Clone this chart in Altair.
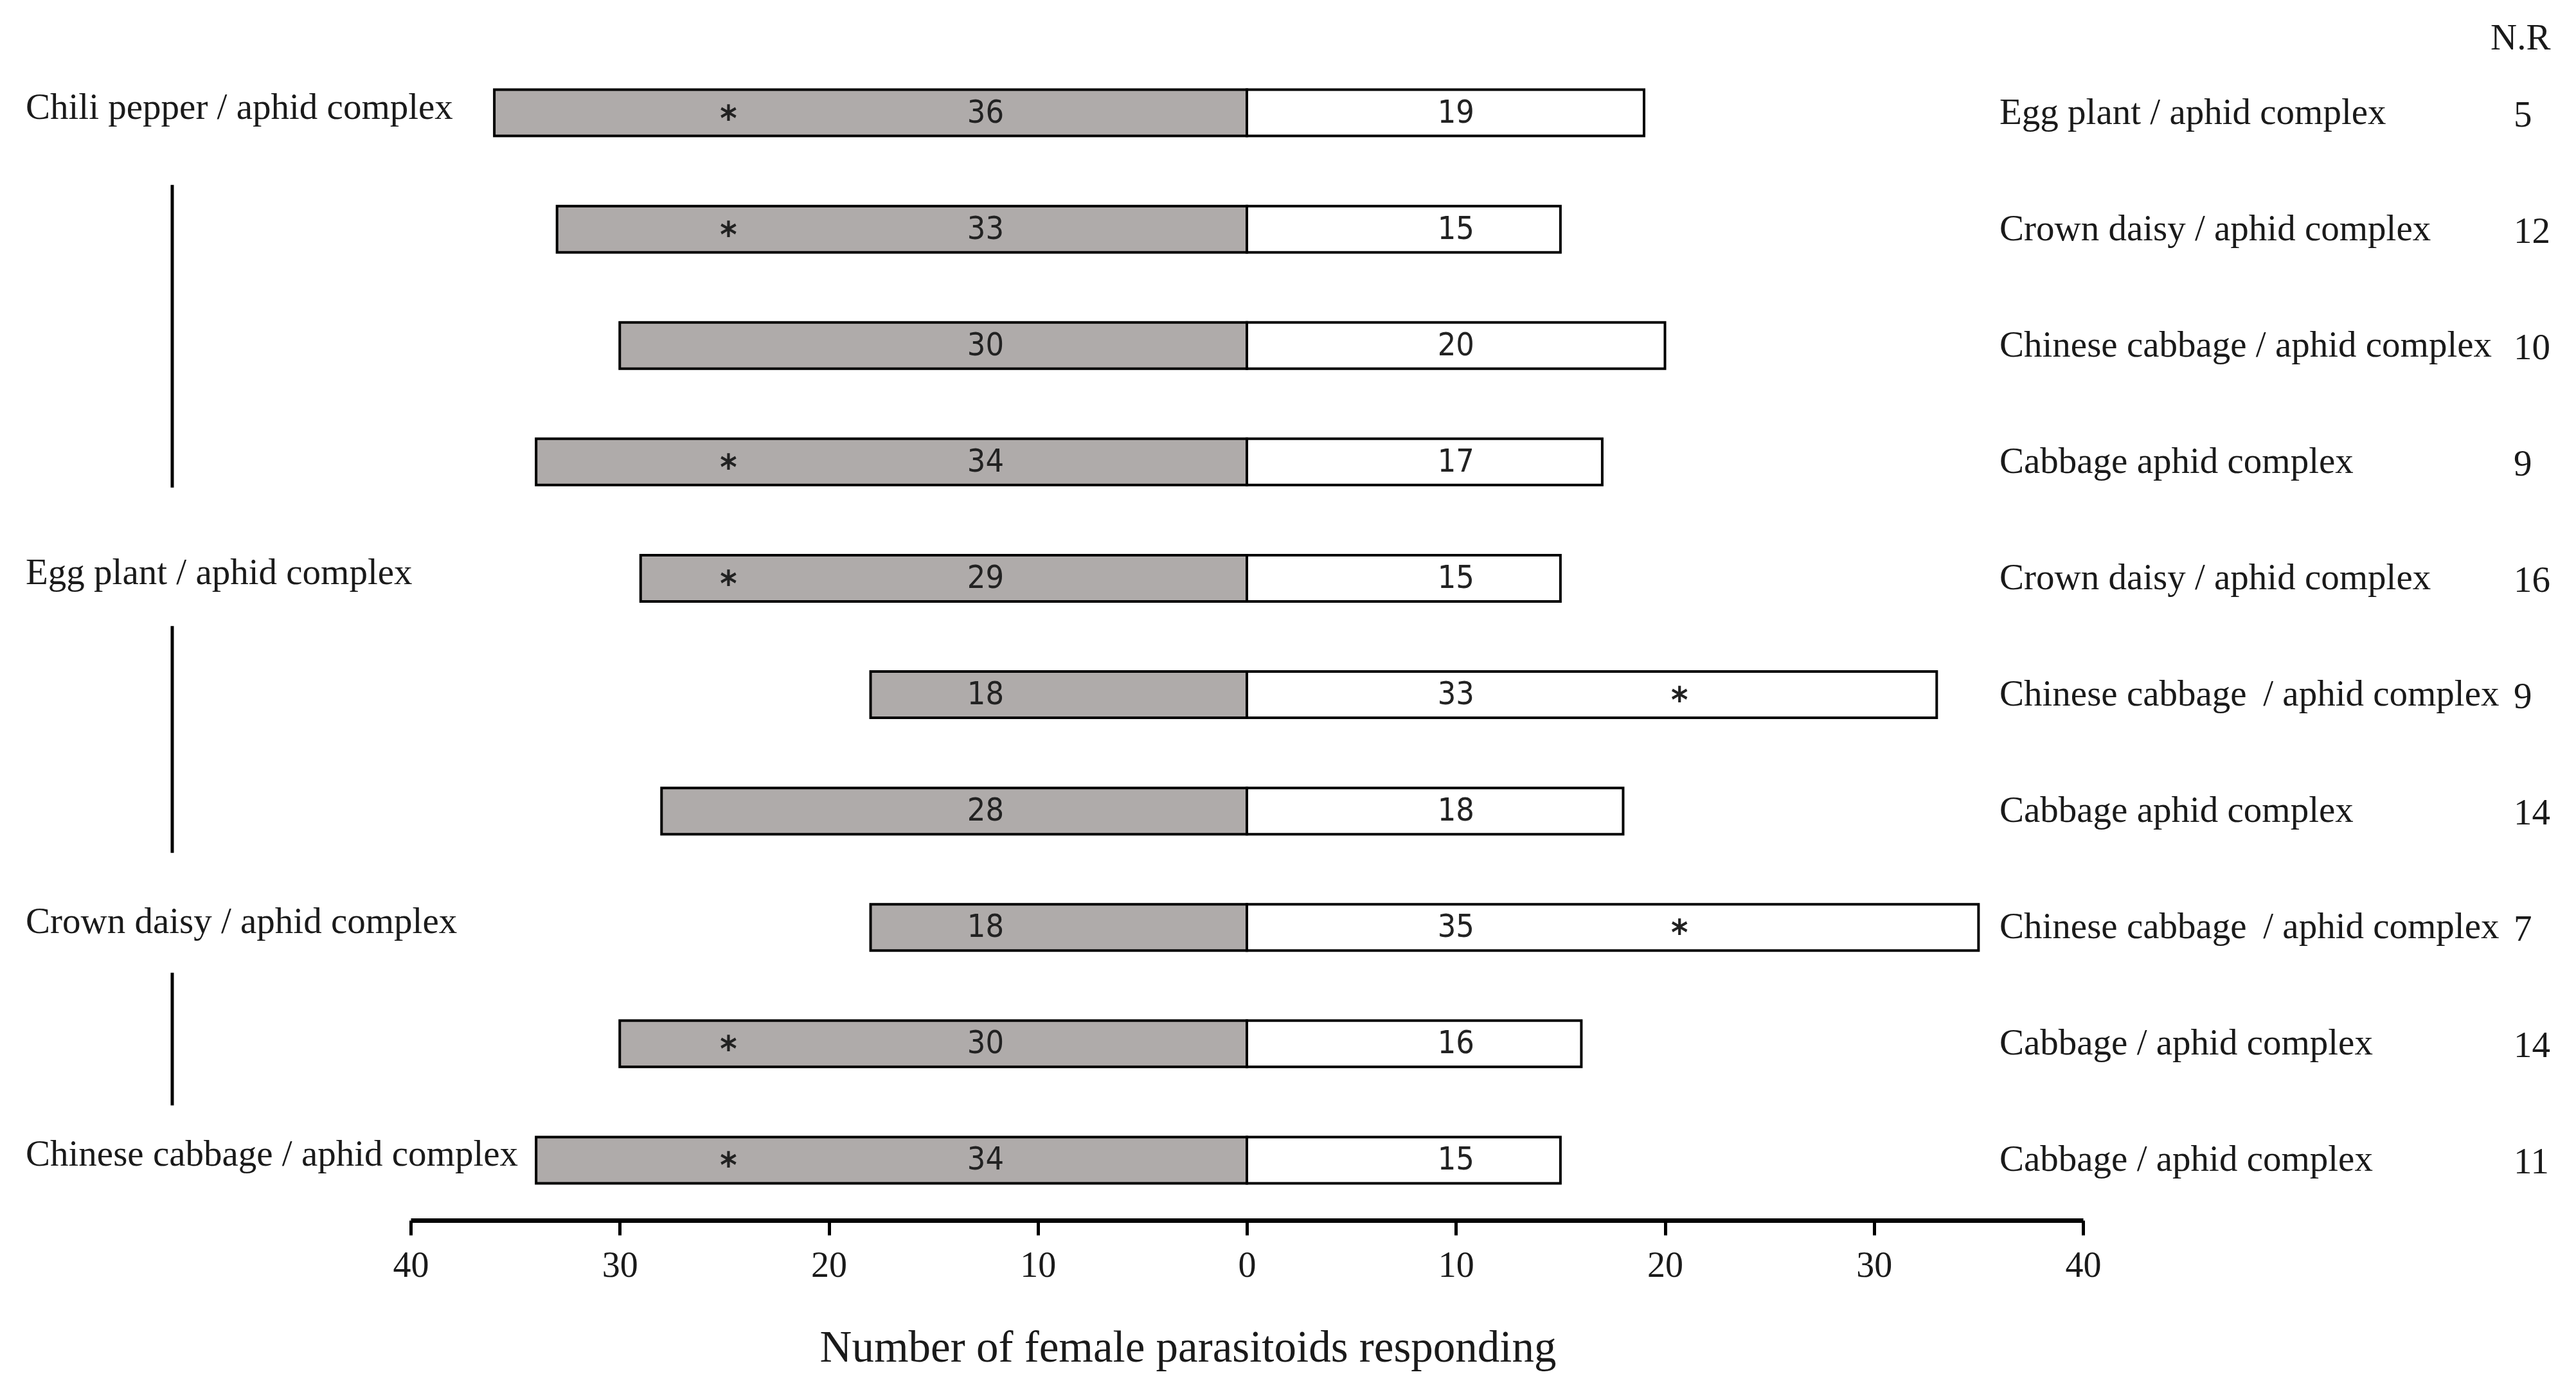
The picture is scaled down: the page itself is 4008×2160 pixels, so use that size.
import altair as alt
import pandas as pd

# ---- data ----
rows = [1, 2, 3, 4, 5, 6, 7, 8, 9, 10]
left_values = [36, 33, 30, 34, 29, 18, 28, 18, 30, 34]
right_values = [19, 15, 20, 17, 15, 33, 18, 35, 16, 15]
left_significant = [True, True, False, True, True, False, False, False, True, True]
right_significant = [False, False, False, False, False, True, False, True, False, False]
right_labels = [
    "Egg plant / aphid complex",
    "Crown daisy / aphid complex",
    "Chinese cabbage  / aphid complex",
    "Cabbage aphid complex",
    "Crown daisy / aphid complex",
    "Chinese cabbage\u2009 / aphid complex",
    "Cabbage aphid complex",
    "Chinese cabbage\u2009 / aphid complex",
    "Cabbage / aphid complex",
    "Cabbage / aphid complex",
]
nr_values = [5, 12, 10, 9, 16, 9, 14, 7, 14, 11]
left_label_rows = [1, 5, 8, 10]
left_labels = [
    "Chili pepper / aphid complex",
    "Egg plant / aphid complex",
    "Crown daisy / aphid complex",
    "Chinese cabbage  / aphid complex",
]
bracket_start = [1.62, 5.41, 8.39]
bracket_end = [4.22, 7.36, 9.53]
x_ticks = [-40, -30, -20, -10, 0, 10, 20, 30, 40]

# ---- tables ----
bars_left = pd.DataFrame({"row": rows, "x0": [-v for v in left_values],
                          "x1": [0] * len(rows), "val": left_values})
bars_right = pd.DataFrame({"row": rows, "x0": [0] * len(rows),
                           "x1": right_values, "val": right_values})
stars_left = pd.DataFrame({"row": [r for r, s in zip(rows, left_significant) if s]})
stars_right = pd.DataFrame({"row": [r for r, s in zip(rows, right_significant) if s]})
right_df = pd.DataFrame({"row": rows, "label": right_labels, "nr": [str(v) for v in nr_values]})
left_df = pd.DataFrame({"row": left_label_rows, "label": left_labels})
brackets = pd.DataFrame({"y0": bracket_start, "y1": bracket_end})
header = pd.DataFrame({"t": ["N.R"]})

SERIF = "Liberation Serif"
NARROW = "Liberation Sans Narrow, DejaVu Sans Condensed, sans-serif"
TXT = "#1a1a1a"

yscale = alt.Scale(domain=[0.511, 10.489], reverse=True, nice=False, zero=False)
xscale = alt.Scale(domain=[-40, 40], nice=False, zero=False)

x_axis = alt.Axis(
    values=x_ticks, labelExpr="'' + abs(datum.value)", grid=False, labelFlush=False,
    domainColor="black", domainWidth=7, tickColor="black", tickWidth=5, tickSize=23,
    labelFont=SERIF, labelFontSize=56, labelColor=TXT, labelPadding=20,
    title="Number of female parasitoids responding", titleFont=SERIF,
    titleFontSize=69, titleFontWeight="normal", titleColor=TXT, titlePadding=66,
    titleX=1209, titleAlign="center", titleAnchor="start",
)

base_y = alt.Y("row:Q", scale=yscale, axis=None)

left_bars = alt.Chart(bars_left).mark_bar(
    size=72, fill="#AFABAA", stroke="black", strokeWidth=4
).encode(
    x=alt.X("x0:Q", scale=xscale, axis=x_axis), x2="x1:Q", y=base_y
)
right_bars = alt.Chart(bars_right).mark_bar(
    size=72, fill="white", stroke="black", strokeWidth=4
).encode(
    x=alt.X("x0:Q", scale=xscale), x2="x1:Q", y=base_y
)

left_nums = alt.Chart(bars_left).mark_text(
    font=NARROW, fontSize=50, color="#222", baseline="middle", align="center"
).encode(x=alt.datum(-12.5), y=base_y, text="val:Q")
right_nums = alt.Chart(bars_right).mark_text(
    font=NARROW, fontSize=50, color="#222", baseline="middle", align="center"
).encode(x=alt.datum(10), y=base_y, text="val:Q")

lstar = alt.Chart(stars_left).mark_text(
    text="*", font=NARROW, fontSize=56, fontWeight="bold", color="#222",
    baseline="middle", align="center", dy=10
).encode(x=alt.datum(-24.8), y=base_y)
rstar = alt.Chart(stars_right).mark_text(
    text="*", font=NARROW, fontSize=56, fontWeight="bold", color="#222",
    baseline="middle", align="center", dy=10
).encode(x=alt.datum(20.7), y=base_y)

right_text = alt.Chart(right_df).mark_text(
    font=SERIF, fontSize=57, color=TXT, baseline="middle", align="left"
).encode(x=alt.value(2472), y=base_y, text="label:N")
nr_text = alt.Chart(right_df).mark_text(
    font=SERIF, fontSize=57, color=TXT, baseline="middle", align="left", dy=4
).encode(x=alt.value(3272), y=base_y, text="nr:N")
left_text = alt.Chart(left_df).mark_text(
    font=SERIF, fontSize=57, color=TXT, baseline="middle", align="left", dy=-8
).encode(x=alt.value(-599), y=base_y, text="label:N")
header_text = alt.Chart(header).mark_text(
    font=SERIF, fontSize=57, color=TXT, baseline="middle", align="left"
).encode(x=alt.value(3236), y=alt.value(-22), text="t:N")

bracket_rules = alt.Chart(brackets).mark_rule(color="black", strokeWidth=5).encode(
    x=alt.value(-371), y=alt.Y("y0:Q", scale=yscale, axis=None), y2="y1:Q"
)

chart = alt.layer(
    left_bars, right_bars, left_nums, right_nums, lstar, rstar,
    right_text, nr_text, left_text, header_text, bracket_rules
).properties(
    width=2602, height=1817,
    autosize=alt.AutoSizeParams(type="none"),
    padding={"left": 631, "top": 74, "right": 759, "bottom": 253},
    background="white",
).configure_view(stroke=None)

chart.save("out.html", embed_options={"renderer": "svg", "actions": False})
